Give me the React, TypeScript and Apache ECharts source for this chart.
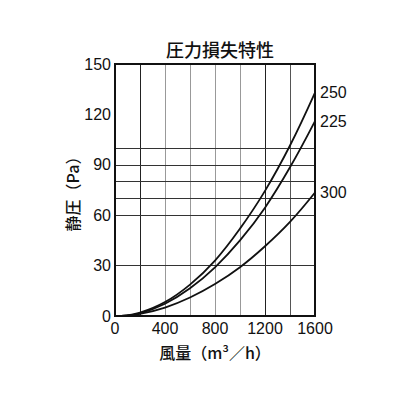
import React, { useEffect, useRef } from 'react';
import * as echarts from 'echarts';

// 風量 (m³/h)
const flows = [50, 200, 400, 600, 800, 1000, 1200, 1400, 1600];
// 静圧 (Pa) per duct size
const p250 = [0, 2, 8.3, 18.7, 33, 52, 74.5, 101.5, 133];
const p225 = [0, 1.6, 7.3, 16.5, 29, 45, 64.5, 88.5, 116];
const p300 = [0, 1.2, 5, 11, 19, 29, 41.5, 56, 73.5];
const seriesNames = ['250', '225', '300'];
const xTicks = [0, 400, 800, 1200, 1600];
const hLines = [30, 60, 70, 80, 90, 100];

const FONT = '"Liberation Sans", "Noto Sans CJK JP", sans-serif';
const CJK = '"Noto Sans CJK JP", sans-serif';

export default function App() {
  const chartRef = useRef<HTMLDivElement>(null);

  useEffect(() => {
    if (!chartRef.current) return;
    const chart = echarts.init(chartRef.current, null, { renderer: 'svg' });

    const toPairs = (vals: number[]) => flows.map((f, i) => [f, vals[i]]);
    const lineSeries = [p250, p225, p300].map((vals, idx) => ({
      name: seriesNames[idx],
      type: 'line' as const,
      data: toPairs(vals),
      smooth: 0.4,
      showSymbol: false,
      lineStyle: { color: '#111', width: 1.8 },
      endLabel: {
        show: true,
        formatter: '{a}',
        color: '#111',
        fontSize: 16,
        fontFamily: FONT,
        distance: 5,
      },
      markLine:
        idx === 0
          ? {
              silent: true,
              symbol: 'none',
              label: { show: false },
              lineStyle: { color: '#333', width: 1, type: 'solid' },
              data: hLines.map((v) => ({ yAxis: v })),
            }
          : undefined,
      z: 5,
    }));

    chart.setOption({
      animation: false,
      title: {
        text: '圧力損失特性',
        left: 215,
        textAlign: 'center',
        top: 35,
        textStyle: {
          fontSize: 18,
          fontWeight: 500,
          color: '#111',
          fontFamily: CJK,
        },
      },
      grid: { left: 115, right: 101, top: 64, bottom: 100, show: false },
      xAxis: {
        type: 'value',
        min: 0,
        max: 1600,
        interval: 200,
        name: '風量（m³／h）',
        nameLocation: 'middle',
        nameGap: 28,
        nameTextStyle: { fontSize: 16, color: '#111', fontFamily: CJK, fontWeight: 500 },
        axisLine: { show: true, onZero: false, lineStyle: { color: '#111', width: 2 } },
        axisTick: { show: false },
        axisLabel: {
          fontSize: 16,
          color: '#111',
          fontFamily: FONT,
          margin: 4,
          formatter: (v: number) => (xTicks.includes(v) ? String(v) : ''),
        },
        splitLine: {
          show: true,
          showMinLine: false,
          showMaxLine: false,
          lineStyle: {
            color: ['#222', '#999', '#999', '#999', '#999', '#222', '#555'],
            width: 1,
          },
        },
      },
      yAxis: {
        type: 'value',
        min: 0,
        max: 150,
        interval: 30,
        name: '静圧（Pa）',
        nameLocation: 'middle',
        nameGap: 29,
        nameRotate: 90,
        nameTextStyle: { fontSize: 16, color: '#111', fontFamily: CJK, fontWeight: 500 },
        axisLine: { show: true, lineStyle: { color: '#111', width: 2 } },
        axisTick: { show: false },
        axisLabel: { fontSize: 16, color: '#111', fontFamily: FONT, margin: 4 },
        splitLine: { show: false },
      },
      graphic: [
        {
          type: 'rect',
          shape: { x: 115, y: 64, width: 200, height: 252 },
          style: { fill: 'none', stroke: '#111', lineWidth: 2 },
          silent: true,
          z: 10,
        },
      ],
      series: lineSeries,
    });

    return () => {
      chart.dispose();
    };
  }, []);

  return (
    <div
      ref={chartRef}
      style={{ position: 'fixed', left: 0, top: 0, width: 416, height: 416, background: '#fff' }}
    />
  );
}
